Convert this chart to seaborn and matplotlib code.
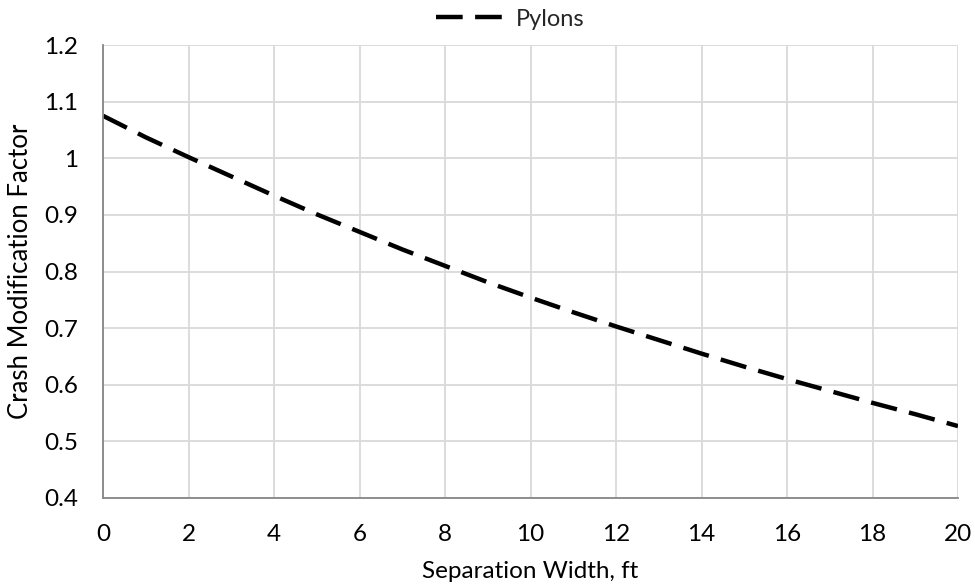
import matplotlib
matplotlib.use("Agg")
import matplotlib.pyplot as plt
import seaborn as sns
import pandas as pd
from matplotlib.lines import Line2D

width_ft = [0, 1, 2, 3, 4, 5, 6, 7, 8, 9, 10, 11, 12, 13, 14, 15, 16, 17, 18, 19, 20]
cmf = [1.075, 1.037, 1.002, 0.968, 0.934, 0.901, 0.870, 0.839, 0.810, 0.781, 0.754,
       0.728, 0.703, 0.679, 0.655, 0.632, 0.610, 0.589, 0.568, 0.548, 0.527]
series_name = "Pylons"
x_ticks = list(range(0, 21, 2))
y_ticks = [0.4, 0.5, 0.6, 0.7, 0.8, 0.9, 1.0, 1.1, 1.2]
y_tick_labels = ["0.4", "0.5", "0.6", "0.7", "0.8", "0.9", "1", "1.1", "1.2"]

df = pd.DataFrame({"Separation Width, ft": width_ft, "CMF": cmf, "series": series_name})

sns.set_theme(style="white")
plt.rcParams["font.family"] = ["Lato", "DejaVu Sans"]

fig = plt.figure(figsize=(9.75, 5.88), dpi=100)
ax = fig.add_axes([103 / 975, 1 - 498 / 588, (958 - 103) / 975, (498 - 45) / 588])

sns.lineplot(data=df, x="Separation Width, ft", y="CMF", hue="series",
             palette=["black"], ax=ax, linewidth=3.2, legend=False)
line = ax.lines[0]
line.set_dashes((6, 2.8))
line.set_dash_capstyle("butt")

ax.set_xlim(0, 20)
ax.set_ylim(0.4, 1.2)
ax.set_xticks(x_ticks)
ax.set_yticks(y_ticks)
ax.set_yticklabels(y_tick_labels)
ax.grid(True, color="#d9d9d9", linewidth=1.3)
ax.set_axisbelow(True)
for s in ["top", "right"]:
    ax.spines[s].set_visible(False)
for s in ["left", "bottom"]:
    ax.spines[s].set_color("#868686")
    ax.spines[s].set_linewidth(1.3)
ax.tick_params(axis="both", length=0, labelsize=17.5, colors="#000000")
ax.tick_params(axis="x", pad=19)
ax.tick_params(axis="y", pad=18)
ax.set_xlabel("Separation Width, ft", fontsize=17.5, color="#000000", labelpad=11)
ax.set_ylabel("Crash Modification Factor", fontsize=18.5, color="#000000", labelpad=8)

h = Line2D([], [], color="black", linewidth=3.2, dashes=(6, 2.8), dash_capstyle="butt")
fig.legend([h], [series_name], loc="center", bbox_to_anchor=(510 / 975, 1 - 19 / 588),
           frameon=False, fontsize=17, handlelength=3.0, handletextpad=0.4)

fig.savefig("out.png", dpi=100)
